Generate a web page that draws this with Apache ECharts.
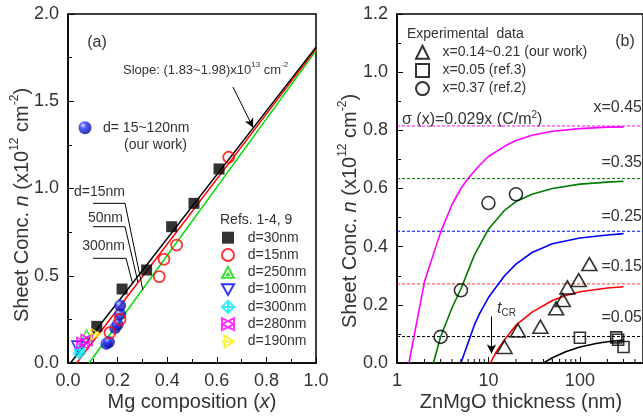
<!DOCTYPE html>
<html>
<head>
<meta charset="utf-8">
<script src="https://cdn.jsdelivr.net/npm/echarts@6/dist/echarts.min.js"></script>
<style>
html,body{margin:0;padding:0;background:#fff;}
#chart{width:643px;height:420px;}
</style>
</head>
<body>
<div id="chart"></div>
<script>
// ---------- Panel (a): sheet concentration vs Mg composition ----------
const fitBlack = [[0.01, 0], [1.0, 1.81]];
const fitRed = [[0.035, 0], [1.0, 1.80]];
const fitGreen = [[0.085, 0], [1.0, 1.79]];

const ourWorkA = [[0.155, 0.11], [0.165, 0.12], [0.19, 0.20], [0.20, 0.22], [0.21, 0.28], [0.21, 0.33]];
const ref30nm = [[0.116, 0.21], [0.218, 0.424], [0.317, 0.533], [0.418, 0.781], [0.508, 0.915], [0.609, 1.112]];
const ref15nm = [[0.169, 0.174], [0.21, 0.25], [0.368, 0.495], [0.387, 0.594], [0.438, 0.676], [0.648, 1.179]];
const ref250nm = [[0.075, 0.155]];
const ref100nm = [[0.038, 0.094]];
const ref300nm = [[0.046, 0.055], [0.048, 0.075]];
const ref280nm = [[0.058, 0.115], [0.075, 0.132]];
const ref190nm = [[0.107, 0.165]];

// leader lines from the thickness labels to the fitted lines
const leader15nm = [[0.101, 0.915], [0.230, 0.915], [0.302, 0.418]];
const leader50nm = [[0.101, 0.781], [0.230, 0.781], [0.282, 0.464]];
const leader300nm = [[0.101, 0.600], [0.234, 0.600], [0.260, 0.458]];
const slopeArrow = [[0.665, 1.582], [0.746, 1.35]];

// ---------- Panel (b): sheet concentration vs ZnMgO thickness ----------
const satLevels = [0.815, 0.634, 0.453, 0.272, 0.091];     // sigma(x)/q for x = 0.45 ... 0.05
const satLabels = ['x=0.45', '=0.35', '=0.25', '=0.15', '=0.05'];

const curveX045 = [[1.35, 0], [2, 0.28], [3, 0.45], [4, 0.545], [5, 0.60], [6, 0.635], [8, 0.68], [10, 0.71], [15, 0.745], [20, 0.765], [30, 0.783], [50, 0.797], [100, 0.806], [200, 0.811], [300, 0.812]];
const curveX035 = [[2.5, 0], [3, 0.09], [4, 0.19], [5, 0.255], [7, 0.37], [10, 0.46], [15, 0.525], [20, 0.555], [30, 0.58], [50, 0.60], [100, 0.615], [200, 0.622], [300, 0.625]];
const curveX025 = [[5, 0], [6, 0.07], [7, 0.13], [8, 0.17], [10, 0.225], [15, 0.30], [20, 0.34], [30, 0.38], [50, 0.41], [100, 0.43], [200, 0.44], [300, 0.445]];
const curveX015 = [[10.5, 0], [12, 0.035], [15, 0.08], [20, 0.13], [30, 0.175], [50, 0.215], [70, 0.232], [100, 0.245], [200, 0.258], [300, 0.262]];
const curveX005 = [[40, 0], [50, 0.018], [70, 0.039], [100, 0.055], [150, 0.067], [200, 0.073], [300, 0.079]];

const expOurWork = [[15, 0.055], [21, 0.112], [37, 0.125], [55, 0.188], [65, 0.217], [73, 0.26], [97, 0.285], [127, 0.34]];
const expRef3 = [[100, 0.087], [250, 0.088], [262, 0.08], [300, 0.055]];
const expRef2 = [[3, 0.09], [5, 0.25], [10, 0.55], [20, 0.58]];
const tcrArrow = [[10.8, 0.16], [10.8, 0.033]];

const logMinorTicks = [2, 3, 4, 5, 6, 7, 8, 9, 20, 30, 40, 50, 60, 70, 80, 90, 200, 300, 400, 500, 600, 700, 800, 900];
const thicknessMax = 490;   // the axis runs off the right edge of the page

const FONT = '"Liberation Sans", Arial, sans-serif';
const TXT = '#333';

const chart = echarts.init(document.getElementById('chart'), null, { renderer: 'canvas' });

const plainLine = (name, data, color, xi, width, dash) => ({
  name, type: 'line', xAxisIndex: xi, yAxisIndex: xi, data,
  symbol: 'none', smooth: false, silent: true, animation: false,
  lineStyle: { color, width: width || 1.5, type: dash || 'solid' },
  z: 2
});
const openStyle = (c, w) => ({ color: 'rgba(0,0,0,0)', borderColor: c, borderWidth: w || 1.6 });

const refColors = { g: '#00dd00', b: '#0000ff', c: '#00e8f8', m: '#ff00ff', y: '#ffee00' };
const satColors = ['#ff00ff', '#007a00', '#0000ff', '#ff0000', '#000000'];
const satDash = ['#ff00ff', '#006600', '#0000ff', '#ff3030', '#000000'];

const series = [
  plainLine('fitGreen', fitGreen, '#00dd00', 0),
  plainLine('fitRed', fitRed, '#ff0000', 0),
  plainLine('fitBlack', fitBlack, '#000000', 0),
  plainLine('l15', leader15nm, '#000', 0, 1),
  plainLine('l50', leader50nm, '#000', 0, 1),
  plainLine('l300', leader300nm, '#000', 0, 1),
  {
    type: 'line', xAxisIndex: 0, yAxisIndex: 0, data: [], silent: true,
    markLine: {
      silent: true, symbol: ['none', 'arrow'], symbolSize: [7, 9], animation: false,
      label: { show: false },
      lineStyle: { color: '#000', width: 1, type: 'solid' },
      data: [[{ coord: slopeArrow[0] }, { coord: slopeArrow[1] }]]
    }
  },
  {
    name: 'd= 15~120nm', type: 'scatter', xAxisIndex: 0, yAxisIndex: 0, data: ourWorkA,
    symbol: 'circle', symbolSize: 12, z: 3,
    itemStyle: {
      color: { type: 'radial', x: 0.35, y: 0.32, r: 0.75,
        colorStops: [{ offset: 0, color: '#c8d0ff' }, { offset: 0.35, color: '#2030ff' }, { offset: 1, color: '#00007a' }] }
    }
  },
  { name: 'd=30nm', type: 'scatter', xAxisIndex: 0, yAxisIndex: 0, data: ref30nm, symbol: 'rect', symbolSize: 11, z: 4, itemStyle: { color: '#000' } },
  { name: 'd=15nm', type: 'scatter', xAxisIndex: 0, yAxisIndex: 0, data: ref15nm, symbol: 'circle', symbolSize: 11, z: 4, itemStyle: openStyle('#ff0000', 1.8) },
  { name: 'd=250nm', type: 'scatter', xAxisIndex: 0, yAxisIndex: 0, data: ref250nm, symbol: 'path://M5,0 L10,9 L0,9 Z M5,5.6 L5.7,6.8 L4.3,6.8 Z', symbolSize: 12, z: 4, itemStyle: openStyle(refColors.g, 1.4) },
  { name: 'd=100nm', type: 'scatter', xAxisIndex: 0, yAxisIndex: 0, data: ref100nm, symbol: 'path://M0,0 L10,0 L5,9 Z', symbolSize: 11, z: 4, itemStyle: openStyle(refColors.b) },
  { name: 'd=300nm', type: 'scatter', xAxisIndex: 0, yAxisIndex: 0, data: ref300nm, symbol: 'path://M5,0 L10,5 L5,10 L0,5 Z M5,0 L5,10 M0,5 L10,5', symbolSize: 11, z: 4, itemStyle: openStyle(refColors.c) },
  { name: 'd=280nm', type: 'scatter', xAxisIndex: 0, yAxisIndex: 0, data: ref280nm, symbol: 'path://M0,0 L10,5 L0,10 Z M10,0 L0,5 L10,10 Z', symbolSize: 11, z: 4, itemStyle: openStyle(refColors.m) },
  { name: 'd=190nm', type: 'scatter', xAxisIndex: 0, yAxisIndex: 0, data: ref190nm, symbol: 'path://M2,0 L10,5 L2,10 Z M0,5 L10,5', symbolSize: 11, z: 4, itemStyle: openStyle(refColors.y) }
];

// panel (b): saturation levels and model curves
satLevels.forEach((v, i) => {
  series.push(plainLine('sat' + i, [[1, v], [thicknessMax, v]], satDash[i], 1, 1, [3, 2]));
});
[curveX045, curveX035, curveX025, curveX015, curveX005].forEach((c, i) => {
  series.push(plainLine('curve' + i, c, satColors[i], 1, 1.6));
});
series.push({
  type: 'line', xAxisIndex: 1, yAxisIndex: 1, data: [], silent: true,
  markLine: {
    silent: true, symbol: ['none', 'arrow'], symbolSize: [7, 9], animation: false,
    label: { show: false },
    lineStyle: { color: '#000', width: 1, type: 'solid' },
    data: [[{ coord: tcrArrow[0] }, { coord: tcrArrow[1] }]]
  }
});
series.push(
  { name: 'x=0.14~0.21 (our work)', type: 'scatter', xAxisIndex: 1, yAxisIndex: 1, data: expOurWork, symbol: 'triangle', symbolSize: [15, 13], z: 4, itemStyle: openStyle('#000', 1.6) },
  { name: 'x=0.05 (ref.3)', type: 'scatter', xAxisIndex: 1, yAxisIndex: 1, data: expRef3, symbol: 'rect', symbolSize: 11, z: 4, itemStyle: openStyle('#000', 1.6) },
  { name: 'x=0.37 (ref.2)', type: 'scatter', xAxisIndex: 1, yAxisIndex: 1, data: expRef2, symbol: 'circle', symbolSize: 13, z: 4, itemStyle: openStyle('#000', 1.6) }
);
// minor ticks of the logarithmic thickness axis
series.push({
  type: 'custom', xAxisIndex: 1, yAxisIndex: 1, silent: true, clip: false, z: 10,
  data: logMinorTicks.filter(v => v < thicknessMax).map(v => [v, 0]),
  renderItem: (params, api) => {
    const p = api.coord([api.value(0), 0]);
    return { type: 'line', shape: { x1: p[0], y1: p[1], x2: p[0], y2: p[1] - 4 }, style: { stroke: '#000', lineWidth: 1 } };
  }
});

const axisCommon = {
  axisLine: { show: true, onZero: false, lineStyle: { color: '#000', width: 1.5 } },
  axisTick: { show: true, inside: true, length: 6, lineStyle: { color: '#000', width: 1 } },
  minorTick: { show: true, splitNumber: 2, length: 4, lineStyle: { color: '#000', width: 1 } },
  splitLine: { show: false },
  minorSplitLine: { show: false },
  axisLabel: { color: TXT, fontSize: 18, fontFamily: FONT, margin: 9 }
};

const legendText = { color: TXT, fontSize: 14, fontFamily: FONT, lineHeight: 14 };

const option = {
  animation: false,
  backgroundColor: '#fff',
  grid: [
    { left: 68, top: 14, width: 248, height: 349, show: true, borderColor: '#000', borderWidth: 1.5, backgroundColor: 'transparent' },
    { left: 397, top: 14, width: 247, height: 349, show: true, borderColor: '#000', borderWidth: 1.5, backgroundColor: 'transparent' }
  ],
  xAxis: [
    Object.assign({}, axisCommon, { type: 'value', gridIndex: 0, min: 0, max: 1, interval: 0.2,
      axisLabel: Object.assign({}, axisCommon.axisLabel, { formatter: v => v.toFixed(1) }) }),
    Object.assign({}, axisCommon, { type: 'log', logBase: 10, gridIndex: 1, min: 1, max: thicknessMax,
      minorTick: { show: false },
      axisLabel: Object.assign({}, axisCommon.axisLabel, { showMaxLabel: false, formatter: v => String(Math.round(v)) }) })
  ],
  yAxis: [
    Object.assign({}, axisCommon, { type: 'value', gridIndex: 0, min: 0, max: 2, interval: 0.5,
      axisLabel: Object.assign({}, axisCommon.axisLabel, { formatter: v => v.toFixed(1) }) }),
    Object.assign({}, axisCommon, { type: 'value', gridIndex: 1, min: 0, max: 1.2, interval: 0.2,
      axisLabel: Object.assign({}, axisCommon.axisLabel, { formatter: v => v.toFixed(1) }) })
  ],
  legend: [
    { data: ['d= 15~120nm'], orient: 'vertical', left: 78.5, top: 120.7, padding: 0, itemWidth: 13, itemHeight: 13,
      textStyle: Object.assign({}, legendText, { padding: [0, 0, 0, 6.5] }), selectedMode: false },
    { data: ['d=30nm', 'd=15nm', 'd=250nm', 'd=100nm', 'd=300nm', 'd=280nm', 'd=190nm'],
      orient: 'vertical', left: 221, top: 230.7, padding: 0, itemWidth: 12, itemHeight: 12, itemGap: 3.3,
      textStyle: Object.assign({}, legendText, { padding: [0, 0, 0, 8.7] }), selectedMode: false },
    { data: ['x=0.14~0.21 (our work)', 'x=0.05 (ref.3)', 'x=0.37 (ref.2)'],
      orient: 'vertical', left: 415, top: 44.7, padding: 0, itemWidth: 13, itemHeight: 13, itemGap: 3.2,
      textStyle: Object.assign({}, legendText, { padding: [0, 0, 0, 8.5] }), selectedMode: false }
  ],
  graphic: [
    // axis titles
    { type: 'text', x: 192, y: 402, silent: true, style: {
      text: '{a|Mg composition (}{i|x}{a|)}', align: 'center', verticalAlign: 'middle',
      rich: { a: { fontSize: 20, fontFamily: FONT, fill: TXT }, i: { fontSize: 20, fontFamily: FONT, fontStyle: 'italic', fill: TXT } } } },
    { type: 'text', x: 521, y: 402, silent: true, style: {
      text: 'ZnMgO thickness (nm)', align: 'center', verticalAlign: 'middle', fontSize: 20, fontFamily: FONT, fill: TXT } },
    { type: 'text', x: 22, y: 205, rotation: Math.PI / 2, silent: true, style: {
      text: '{a|Sheet Conc. }{i|n}{a| (x10}{s|12}{a| cm}{s|-2}{a|)}', align: 'center', verticalAlign: 'middle',
      rich: {
        a: { fontSize: 20, fontFamily: FONT, fill: TXT, lineHeight: 26 },
        i: { fontSize: 20, fontFamily: FONT, fontStyle: 'italic', fill: TXT, lineHeight: 26 },
        s: { fontSize: 12, fontFamily: FONT, fill: TXT, verticalAlign: 'top', lineHeight: 14 } } } },
    { type: 'text', x: 350, y: 211, rotation: Math.PI / 2, silent: true, style: {
      text: '{a|Sheet Conc. }{i|n}{a| (x10}{s|12}{a| cm}{s|-2}{a|)}', align: 'center', verticalAlign: 'middle',
      rich: {
        a: { fontSize: 20, fontFamily: FONT, fill: TXT, lineHeight: 26 },
        i: { fontSize: 20, fontFamily: FONT, fontStyle: 'italic', fill: TXT, lineHeight: 26 },
        s: { fontSize: 12, fontFamily: FONT, fill: TXT, verticalAlign: 'top', lineHeight: 14 } } } },
    // panel (a) annotations
    { type: 'text', x: 97, y: 43, silent: true, style: { text: '(a)', align: 'center', verticalAlign: 'middle', fontSize: 16, fontFamily: FONT, fill: TXT } },
    { type: 'text', x: 123, y: 70, silent: true, style: {
      text: '{a|Slope: (1.83~1.98)x10}{s|13}{a| cm}{s|-2}', align: 'left', verticalAlign: 'middle',
      rich: { a: { fontSize: 13, fontFamily: FONT, fill: TXT, lineHeight: 18 }, s: { fontSize: 8, fontFamily: FONT, fill: TXT, verticalAlign: 'top', lineHeight: 9 } } } },
    { type: 'text', x: 124, y: 145, silent: true, style: { text: '(our work)', align: 'left', verticalAlign: 'middle', fontSize: 14, fontFamily: FONT, fill: TXT } },
    { type: 'text', x: 125, y: 192, silent: true, style: { text: 'd=15nm', align: 'right', verticalAlign: 'middle', fontSize: 14, fontFamily: FONT, fill: TXT } },
    { type: 'text', x: 123, y: 218, silent: true, style: { text: '50nm', align: 'right', verticalAlign: 'middle', fontSize: 14, fontFamily: FONT, fill: TXT } },
    { type: 'text', x: 125, y: 246, silent: true, style: { text: '300nm', align: 'right', verticalAlign: 'middle', fontSize: 14, fontFamily: FONT, fill: TXT } },
    { type: 'text', x: 220, y: 220, silent: true, style: { text: 'Refs. 1-4, 9', align: 'left', verticalAlign: 'middle', fontSize: 14, fontFamily: FONT, fill: TXT } },
    // panel (b) annotations
    { type: 'text', x: 407, y: 34, silent: true, style: { text: 'Experimental  data', align: 'left', verticalAlign: 'middle', fontSize: 14, fontFamily: FONT, fill: TXT } },
    { type: 'text', x: 625, y: 42, silent: true, style: { text: '(b)', align: 'center', verticalAlign: 'middle', fontSize: 16, fontFamily: FONT, fill: TXT } },
    { type: 'text', x: 402, y: 120, silent: true, style: {
      text: '{a|\u03c3 (x)=0.029x (C/m}{s|2}{a|)}', align: 'left', verticalAlign: 'middle',
      rich: { a: { fontSize: 16, fontFamily: FONT, fill: TXT, lineHeight: 20 }, s: { fontSize: 10, fontFamily: FONT, fill: TXT, verticalAlign: 'top', lineHeight: 11 } } } },
    { type: 'text', x: 497, y: 309, silent: true, style: {
      text: '{t|t}{c|CR}', align: 'left', verticalAlign: 'middle',
      rich: { t: { fontSize: 16, fontFamily: FONT, fontStyle: 'italic', fill: TXT, lineHeight: 18 }, c: { fontSize: 10, fontFamily: FONT, fill: TXT, verticalAlign: 'bottom', lineHeight: 10 } } } }
  ].concat(satLabels.map((t, i) => ({
    type: 'text', x: 642, y: [108, 163, 217, 267, 318][i], silent: true,
    style: { text: t, align: 'right', verticalAlign: 'middle', fontSize: 16, fontFamily: FONT, fill: TXT }
  }))),
  series
};

chart.setOption(option);
</script>
</body>
</html>
